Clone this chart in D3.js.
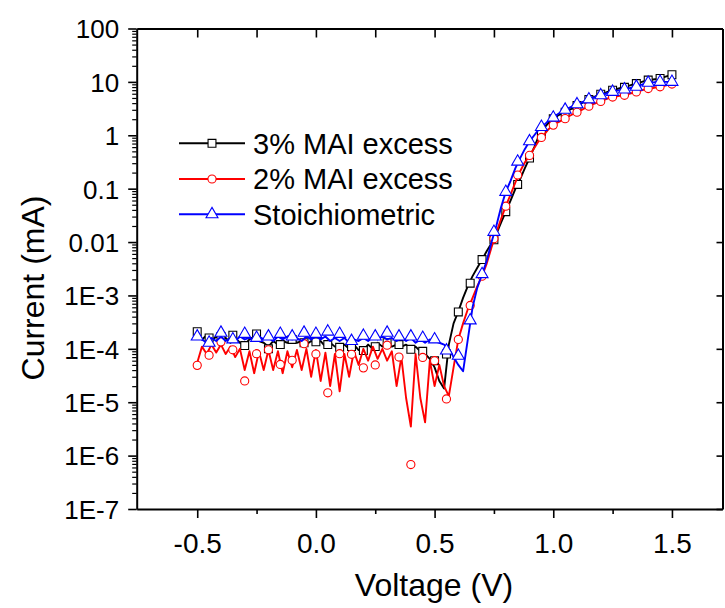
<!DOCTYPE html>
<html>
<head>
<meta charset="utf-8">
<script src="https://cdn.jsdelivr.net/npm/d3@7"></script>
<style>
  body { margin: 0; background: #fff; }
  svg text { font-family: Arial, "Liberation Sans", sans-serif; fill: #000; }
</style>
</head>
<body>
<svg id="chart" width="725" height="608"></svg>
<script>
// Series names, colours, symbols
var seriesNames = ["3% MAI excess", "2% MAI excess", "Stoichiometric"];
var seriesColors = ["#000000", "#ff0000", "#0000ff"];

// Voltage grids: line samples every 0.02 V, symbols every 0.05 V
var lineVoltage = d3.range(0, 101).map(i => -0.5 + i * 0.02);
var markVoltage = d3.range(0, 41).map(i => -0.5 + i * 0.05);

// Current (mA) along the lines
var line3 = [2.1e-4,1.5e-4,1.8e-4,1.4e-4,1.7e-4,1.5e-4,1.6e-4,1.3e-4,1.6e-4,1.3e-4,
  1.2e-4,1.5e-4,1.7e-4,1.4e-4,1.3e-4,1.1e-4,1.4e-4,1.2e-4,1.4e-4,1.3e-4,
  1.5e-4,1.3e-4,1.4e-4,1.2e-4,1.4e-4,1.3e-4,1.4e-4,1.1e-4,1.3e-4,1.1e-4,
  1.1e-4,1.2e-4,1.0e-4,1.2e-4,9.5e-5,9.5e-5,1.2e-4,1.0e-4,1.3e-4,1.1e-4,
  1.3e-4,1.1e-4,1.2e-4,1.1e-4,1.2e-4,1.0e-4,1.1e-4,9.0e-5,8.0e-5,6.5e-5,
  4.5e-5,2.5e-5,1.8e-5,1.2e-4,3.0e-4,5.0e-4,9.0e-4,1.5e-3,2.3e-3,3.3e-3,
  4.7e-3,6.8e-3,9.5e-3,1.4e-2,2.3e-2,3.7e-2,6.0e-2,9.8e-2,0.15,0.24,
  0.375,0.6,1.0,1.35,1.7,2.05,2.35,2.6,2.85,3.2,
  3.6,4.0,4.5,4.9,5.4,5.9,6.3,6.8,7.2,7.6,
  7.9,8.5,9.1,9.6,10.2,10.8,11.1,11.4,12.0,12.8,13.6];

var line2 = [5.5e-5,1.1e-4,8.0e-5,1.2e-4,8.5e-5,1.2e-4,8.0e-5,1.1e-4,7.0e-5,1.0e-4,
  4.0e-5,9.0e-5,3.5e-5,9.0e-5,4.0e-5,9.5e-5,4.0e-5,9.0e-5,3.5e-5,9.0e-5,
  4.5e-5,9.5e-5,4.0e-5,1.0e-4,3.0e-5,9.5e-5,2.5e-5,8.5e-5,2.0e-5,8.0e-5,
  1.6e-5,8.0e-5,3.0e-5,9.0e-5,5.0e-5,1.0e-4,6.0e-5,1.1e-4,6.5e-5,1.0e-4,
  6.0e-5,9.0e-5,2.0e-5,7.0e-5,1.2e-5,3.5e-6,8.0e-5,1.2e-5,4.2e-6,6.0e-5,
  2.0e-5,5.0e-5,2.0e-5,1.3e-5,4.5e-5,1.5e-4,3.0e-4,5.5e-4,9.0e-4,1.5e-3,
  2.3e-3,4.0e-3,8.0e-3,1.5e-2,2.7e-2,4.7e-2,7.7e-2,0.13,0.21,0.31,
  0.42,0.58,0.8,1.0,1.3,1.55,1.75,1.95,2.2,2.45,
  2.7,3.0,3.35,3.7,4.0,4.3,4.7,5.1,5.3,5.5,
  5.6,6.0,6.3,6.7,7.1,7.5,7.7,8.0,8.3,8.7,9.1];

var lineS = [1.6e-4,1.5e-4,1.3e-4,1.6e-4,1.4e-4,1.7e-4,1.4e-4,1.6e-4,1.4e-4,1.7e-4,
  1.5e-4,1.6e-4,1.4e-4,1.7e-4,1.5e-4,1.6e-4,1.4e-4,1.7e-4,1.5e-4,1.7e-4,
  1.5e-4,1.6e-4,1.4e-4,1.7e-4,1.5e-4,1.7e-4,1.5e-4,1.7e-4,1.4e-4,1.6e-4,
  1.4e-4,1.6e-4,1.3e-4,1.5e-4,1.4e-4,1.6e-4,1.4e-4,1.7e-4,1.5e-4,1.7e-4,
  1.5e-4,1.6e-4,1.4e-4,1.6e-4,1.4e-4,1.6e-4,1.3e-4,1.5e-4,1.3e-4,1.5e-4,
  1.4e-4,1.3e-4,1.2e-4,1.0e-4,7.0e-5,5.0e-5,3.8e-5,1.5e-4,6.0e-4,1.4e-3,
  2.5e-3,4.5e-3,1.0e-2,2.0e-2,4.5e-2,8.7e-2,0.14,0.24,0.37,0.55,
  0.77,1.0,1.3,1.55,1.85,2.15,2.5,2.85,3.15,3.5,
  3.8,4.15,4.5,4.9,5.3,5.6,6.0,6.4,6.7,7.0,
  7.2,7.6,8.0,8.5,9.1,9.6,9.8,10.0,10.0,10.0,10.0];

// Current (mA) at the symbols
var mark3 = [2.1e-4,1.6e-4,1.7e-4,1.8e-4,1.15e-4,1.9e-4,1.0e-4,1.2e-4,1.5e-4,1.3e-4,
  1.35e-4,1.2e-4,1.07e-4,1.1e-4,9.3e-5,1.1e-4,1.3e-4,1.2e-4,9.8e-5,9.0e-5,
  6.0e-5,8.0e-5,4.9e-4,1.7e-3,4.7e-3,1.1e-2,3.7e-2,0.12,0.375,1.15,
  2.05,2.7,3.6,4.7,5.9,7.0,7.9,9.3,10.8,11.6,13.6];

var mark2 = [4.9e-5,7.6e-5,1.35e-4,9.6e-5,2.5e-5,8.1e-5,9.6e-5,5.1e-5,6.1e-5,1.25e-4,
  8.0e-5,1.5e-5,8.1e-5,7.9e-5,4.4e-5,5.0e-5,1.17e-4,7.0e-5,6.8e-7,6.9e-5,
  6.0e-5,1.15e-5,1.5e-4,6.5e-4,2.3e-3,1.15e-2,4.7e-2,0.18,0.42,0.91,
  1.55,2.05,2.7,3.5,4.3,5.2,5.6,6.5,7.5,8.1,9.1];

var markS = [1.7e-4,1.3e-4,2.0e-4,1.5e-4,1.9e-4,1.6e-4,1.7e-4,1.9e-4,1.7e-4,2.0e-4,
  1.9e-4,2.1e-4,1.9e-4,1.4e-4,1.75e-4,1.7e-4,2.0e-4,1.7e-4,1.7e-4,1.6e-4,
  1.5e-4,9.3e-5,7.4e-5,3.4e-4,2.5e-3,1.55e-2,8.7e-2,0.32,0.77,1.43,
  2.14,3.0,3.8,4.7,5.6,6.5,7.2,8.1,9.6,10.0,10.0];

// Tick labels
var xTickValues = [-0.5, 0, 0.5, 1.0, 1.5];
var xTickLabels = ["-0.5", "0.0", "0.5", "1.0", "1.5"];
var xMinorValues = [-0.25, 0.25, 0.75, 1.25];
var yTickValues = [1e-7, 1e-6, 1e-5, 1e-4, 1e-3, 0.01, 0.1, 1, 10, 100];
var yTickLabels = ["1E-7", "1E-6", "1E-5", "1E-4", "1E-3", "0.01", "0.1", "1", "10", "100"];

var lines = [line3, line2, lineS];
var marks = [mark3, mark2, markS];
var symbols = [d3.symbolSquare, d3.symbolCircle, d3.symbolTriangle];
var symbolSizes = [62, 52, 62];

var svg = d3.select("#chart");
var plot = { left: 136.7, right: 722.5, top: 28.5, bottom: 509 };

var x = d3.scaleLinear().domain([-0.755, 1.713]).range([plot.left, plot.right]);
var y = d3.scaleLog().domain([1e-7, 100]).range([plot.bottom, plot.top]);

// Minor log ticks 2..9 in every decade
var yMinorValues = [];
yTickValues.slice(0, -1).forEach(d => {
  for (var k = 2; k <= 9; k++) yMinorValues.push(d * k);
});

function styleAxis(g) {
  g.select(".domain").attr("stroke", "#000").attr("stroke-width", 2);
  g.selectAll(".tick line").attr("stroke", "#000").attr("stroke-width", 1.6);
}

// Minor ticks and frame
svg.append("g").attr("transform", `translate(${plot.left},0)`)
  .call(d3.axisLeft(y).tickValues(yMinorValues).tickSize(4.5).tickFormat("").tickSizeOuter(0))
  .call(styleAxis).call(g => g.select(".domain").remove())
  .selectAll(".tick line").attr("stroke-width", 1.2);
svg.append("g").attr("transform", `translate(0,${plot.bottom})`)
  .call(d3.axisBottom(x).tickValues(xMinorValues).tickSize(5).tickFormat("").tickSizeOuter(0))
  .call(styleAxis).call(g => g.select(".domain").remove());
svg.append("g").attr("transform", `translate(0,${plot.top})`)
  .call(d3.axisBottom(x).tickValues(xTickValues.concat(xMinorValues)).tickSize(9).tickFormat("").tickSizeOuter(0))
  .call(styleAxis);
svg.append("g").attr("transform", `translate(${plot.right},0)`)
  .call(d3.axisLeft(y).tickValues(yTickValues).tickSize(-6).tickFormat("").tickSizeOuter(0))
  .call(g => g.selectAll(".tick line").attr("x2", -6))
  .call(styleAxis);

// Left axis
var yAxis = svg.append("g").attr("transform", `translate(${plot.left},0)`)
  .call(d3.axisLeft(y).tickValues(yTickValues).tickSize(8.5).tickPadding(9)
    .tickFormat((d, i) => yTickLabels[i]).tickSizeOuter(0))
  .call(styleAxis);
yAxis.selectAll(".tick text").attr("font-size", 26).attr("dy", "0.36em");

// Bottom axis
var xAxis = svg.append("g").attr("transform", `translate(0,${plot.bottom})`)
  .call(d3.axisBottom(x).tickValues(xTickValues).tickSize(9)
    .tickFormat((d, i) => xTickLabels[i]).tickSizeOuter(0))
  .call(styleAxis);
xAxis.selectAll(".tick text").attr("font-size", 28).attr("y", 44).attr("dy", 0);

// Axis titles
svg.append("text").attr("x", 434).attr("y", 596).attr("text-anchor", "middle")
  .attr("font-size", 32).text("Voltage (V)");
svg.append("text").attr("transform", "translate(44,288) rotate(-90)")
  .attr("text-anchor", "middle").attr("font-size", 32).text("Current (mA)");

// Data
var plotArea = svg.append("g");
var lineGen = d3.line().x((d, i) => x(lineVoltage[i])).y(d => y(d));

lines.forEach((vals, s) => {
  var g = plotArea.append("g");
  g.append("path").datum(vals)
    .attr("d", lineGen)
    .attr("fill", "none")
    .attr("stroke", seriesColors[s])
    .attr("stroke-width", 1.9)
    .attr("stroke-linejoin", "round");
  g.selectAll("path.sym")
    .data(marks[s])
    .enter()
    .append("path")
    .attr("class", "sym")
    .attr("d", d3.symbol().type(symbols[s]).size(symbolSizes[s]))
    .attr("transform", (d, i) => `translate(${x(markVoltage[i])},${y(d)})`)
    .attr("fill", "#fff")
    .attr("stroke", seriesColors[s])
    .attr("stroke-width", 1.1);
});

// Legend
var legendRows = [143.3, 179, 214.3];
seriesNames.forEach((name, s) => {
  var g = svg.append("g").attr("transform", `translate(0,${legendRows[s]})`);
  g.append("line").attr("x1", 179).attr("x2", 245).attr("y1", 0).attr("y2", 0)
    .attr("stroke", seriesColors[s]).attr("stroke-width", 1.9);
  g.append("path")
    .attr("d", d3.symbol().type(symbols[s]).size(symbolSizes[s]))
    .attr("transform", "translate(212,0)")
    .attr("fill", "#fff")
    .attr("stroke", seriesColors[s])
    .attr("stroke-width", 1.1);
  g.append("text").attr("x", 253).attr("y", 10.4).attr("font-size", 29).text(name);
});
</script>
</body>
</html>
